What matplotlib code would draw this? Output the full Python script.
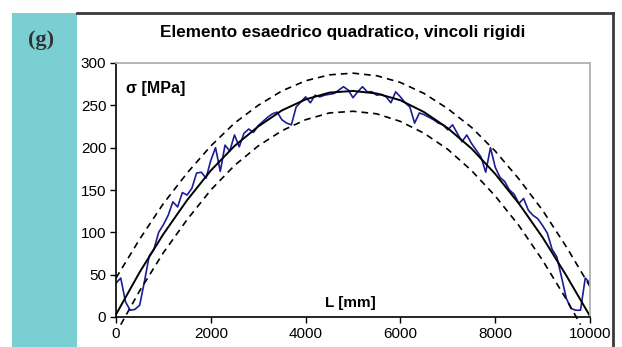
import matplotlib.pyplot as plt
from matplotlib.patches import Rectangle
from matplotlib.lines import Line2D

# Dati
L_fit = [0, 500, 1000, 1500, 2000, 2500, 3000, 3500, 4000, 4500, 5000,
         5500, 6000, 6500, 7000, 7500, 8000, 8500, 9000, 9500, 10000]
sigma_fit = [3, 53, 98, 138, 173, 202, 225, 244, 257, 265, 267,
             264, 256, 242, 223, 199, 169, 134, 94, 49, 1]
sigma_sup = [46, 92, 134, 170, 202, 229, 250, 267, 279, 286, 288,
             285, 277, 264, 246, 224, 196, 163, 126, 83, 36]

L_inf = [100, 500, 1000, 1500, 2000, 2500, 3000, 3500, 4000, 4500, 5000,
         5500, 6000, 6500, 7000, 7500, 8000, 8500, 9000, 9500, 9800]
sigma_inf = [-9, 31, 76, 115, 150, 179, 202, 220, 233, 241, 243,
             240, 231, 217, 198, 173, 143, 108, 67, 21, -9]

L_mis = list(range(0, 10001, 100))
sigma_mis = [40, 46, 18, 8, 9, 14, 42, 72, 80, 100,
             109, 120, 136, 130, 147, 144, 152, 170, 171, 164,
             185, 200, 172, 203, 196, 215, 201, 217, 222, 218,
             226, 231, 236, 240, 242, 233, 229, 227, 248, 254,
             260, 253, 262, 260, 262, 263, 264, 268, 272, 268,
             259, 266, 272, 266, 266, 262, 263, 260, 253, 266,
             260, 253, 248, 229, 241, 239, 236, 233, 229, 227,
             221, 227, 217, 207, 215, 205, 197, 189, 171, 200,
             177, 165, 160, 150, 145, 134, 140, 126, 120, 116,
             108, 99, 80, 71, 47, 22, 10, 8, 8, 46,
             40]

fig = plt.figure(figsize=(6.22, 3.47), dpi=100)
plt.rcParams['font.family'] = ['Liberation Sans', 'DejaVu Sans']

# pannello laterale e cornice
fig.patches.append(Rectangle((12 / 622, 0), 65 / 622, 334 / 347,
                             transform=fig.transFigure, facecolor='#7acfd2',
                             edgecolor='none', zorder=0))
fig.lines.append(Line2D([77 / 622, 613 / 622], [334 / 347, 334 / 347],
                        transform=fig.transFigure, color='#3a3a3a', lw=2))
fig.lines.append(Line2D([613 / 622, 613 / 622], [0, 334 / 347],
                        transform=fig.transFigure, color='#3a3a3a', lw=2))
fig.text(41 / 622, 1 - 40 / 347, '(g)', ha='center', va='center',
         fontsize=16, fontweight='bold', family='Liberation Serif', color='#333333')
fig.text(343 / 622, 1 - 33 / 347, 'Elemento esaedrico quadratico, vincoli rigidi',
         ha='center', va='center', fontsize=12.3, fontweight='bold')

ax = fig.add_axes([116 / 622, 30 / 347, 474 / 622, 254 / 347])
ax.plot(L_mis, sigma_mis, color='#1c1c96', lw=1.2)
ax.plot(L_fit, sigma_fit, color='black', lw=1.4)
ax.plot(L_fit, sigma_sup, color='black', lw=1.2, ls=(0, (4, 3)))
ax.plot(L_inf, sigma_inf, color='black', lw=1.2, ls=(0, (4, 3)), clip_on=False)

ax.set_xlim(0, 10000)
ax.set_ylim(0, 300)
ax.set_xticks(range(0, 10001, 2000))
ax.set_yticks(range(0, 301, 50))
ax.tick_params(direction='out', length=4, width=1, labelsize=11, pad=3)
for s in ['top', 'right']:
    ax.spines[s].set_color('#b0b0b0')
    ax.spines[s].set_linewidth(1.3)
for s in ['left', 'bottom']:
    ax.spines[s].set_linewidth(1.2)

ax.text(0.022, 0.9, 'σ [MPa]', transform=ax.transAxes, fontsize=11.5,
        fontweight='bold', va='center')
ax.text(0.495, 0.055, 'L [mm]', transform=ax.transAxes, fontsize=11,
        fontweight='bold', ha='center', va='center')

fig.savefig('out.png', dpi=100)
